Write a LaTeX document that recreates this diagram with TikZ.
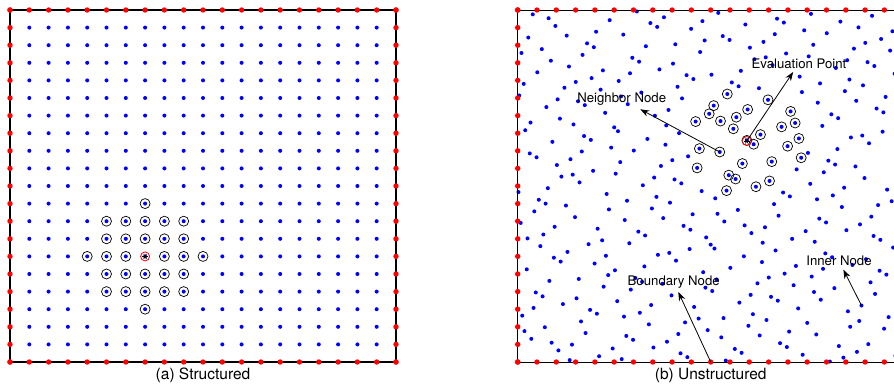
\documentclass[tikz,border=0pt]{standalone}
\usepackage{fontspec}
\setmainfont{TeX Gyre Heros}
\usetikzlibrary{arrows.meta,calc}

% radical inverse of #1 in base #2, result in \hval
\newcommand\haltonrad[2]{%
  \def\hval{0}\def\hfac{1}\pgfmathtruncatemacro\hnum{#1}%
  \loop\ifnum\hnum>0
    \pgfmathsetmacro\hfac{\hfac/#2}%
    \pgfmathtruncatemacro\hdig{mod(\hnum,#2)}%
    \pgfmathsetmacro\hval{\hval+\hfac*\hdig}%
    \pgfmathtruncatemacro\hnum{round((\hnum-\hdig)/#2)}%
  \repeat}

\begin{document}
\begin{tikzpicture}[x=1pt,y=-1pt,line width=0.8pt,>=Stealth]
\tikzset{innerdot/.style={fill=blue},
  bnddot/.style={fill=red},
  nbrring/.style={draw=black,line width=0.7pt},
  evalring/.style={draw=red,line width=0.8pt},
  lbl/.style={font=\fontsize{13.2}{15}\selectfont},
  capt/.style={font=\fontsize{15.5}{18}\selectfont},
  pointer/.style={line width=0.8pt,-{Stealth[length=9pt,width=6.5pt]}}}
\useasboundingbox (0,0) rectangle (894,387);
\clip (0,0) rectangle (894,387);
\fill[white] (0,0) rectangle (894,387);
% ---------- (a) structured: 21x21 grid, stencil of radius 3 ----------
\begin{scope}[shift={(10,10)}]
  \foreach \i in {1,...,19}
    \foreach \j in {1,...,19}
      \fill[innerdot] (19.3*\i,17.6*\j) circle (2);
  % neighbours around the evaluation point (7,14)
  \foreach \i in {4,...,10}
    \foreach \j in {11,...,17}{
      \pgfmathtruncatemacro\dd{(\i-7)^2+(\j-14)^2}
      \ifnum\dd<10 \ifnum\dd>0 \draw[nbrring] (19.3*\i,17.6*\j) circle (5);\fi\fi
    }
  \coordinate (evala) at (135.1,246.4);
  \draw[evalring] (evala) circle (4.5);
  \foreach \a in {0,60,120}
    \draw[line width=0.6pt] ($(evala)+(\a:2.8)$) -- ($(evala)+(\a+180:2.8)$);
  \draw[line width=1.2pt] (0,0) rectangle (386,352);
  \foreach \i in {0,...,20}{
    \fill[bnddot] (19.3*\i,0) circle (2.7);
    \fill[bnddot] (19.3*\i,352) circle (2.7);
    \fill[bnddot] (0,17.6*\i) circle (2.7);
    \fill[bnddot] (386,17.6*\i) circle (2.7);
  }
  \node[capt] (capa) at (193,365) {(a) Structured};
\end{scope}
% ---------- (b) unstructured: Halton points, neighbours within r=0.151 ----------
\begin{scope}[shift={(517.7,10)}]
  \coordinate (evalb) at (229,131);
  \foreach \n in {1,...,361}{
    \haltonrad{\n}{2}\let\hx\hval
    \haltonrad{\n}{3}\let\hy\hval
    \coordinate (h\n) at (386*\hx,352-352*\hy);
    \fill[innerdot] (h\n) circle (2);
    \pgfmathsetmacro\dd{veclen(1000*(\hx-0.5933),1000*(\hy-0.6278))}
    \ifdim\dd pt<151pt \draw[nbrring] (h\n) circle (5);\fi
  }
  \draw[evalring] (evalb) circle (4.5);
  \foreach \a in {0,60,120}
    \draw[line width=0.6pt] ($(evalb)+(\a:2.8)$) -- ($(evalb)+(\a+180:2.8)$);
  \draw (0,0) rectangle (386,352);
  \foreach \i in {0,...,20}{
    \fill[bnddot] (19.3*\i,0) circle (2.7);
    \fill[bnddot] (19.3*\i,352) circle (2.7);
    \fill[bnddot] (0,17.6*\i) circle (2.7);
    \fill[bnddot] (386,17.6*\i) circle (2.7);
  }
  \coordinate (bndpt) at (193,352);
  % labels and pointers
  \node[lbl] (nbrlbl) at (104,89.3) {Neighbor Node};
  \node[lbl] (evallbl) at (281.3,53.3) {Evaluation Point};
  \node[lbl] (bndlbl) at (156,272) {Boundary Node};
  \node[lbl] (innlbl) at (321.3,251) {Inner Node};
  \draw[pointer] (h97) -- (nbrlbl);
  \draw[pointer] (evalb) -- (evallbl);
  \draw[pointer] (bndpt) -- (bndlbl);
  \draw[pointer] (h39) -- (innlbl);
  \node[capt] (capb) at (193,365) {(b) Unstructured};
\end{scope}
\end{tikzpicture}
\end{document}
